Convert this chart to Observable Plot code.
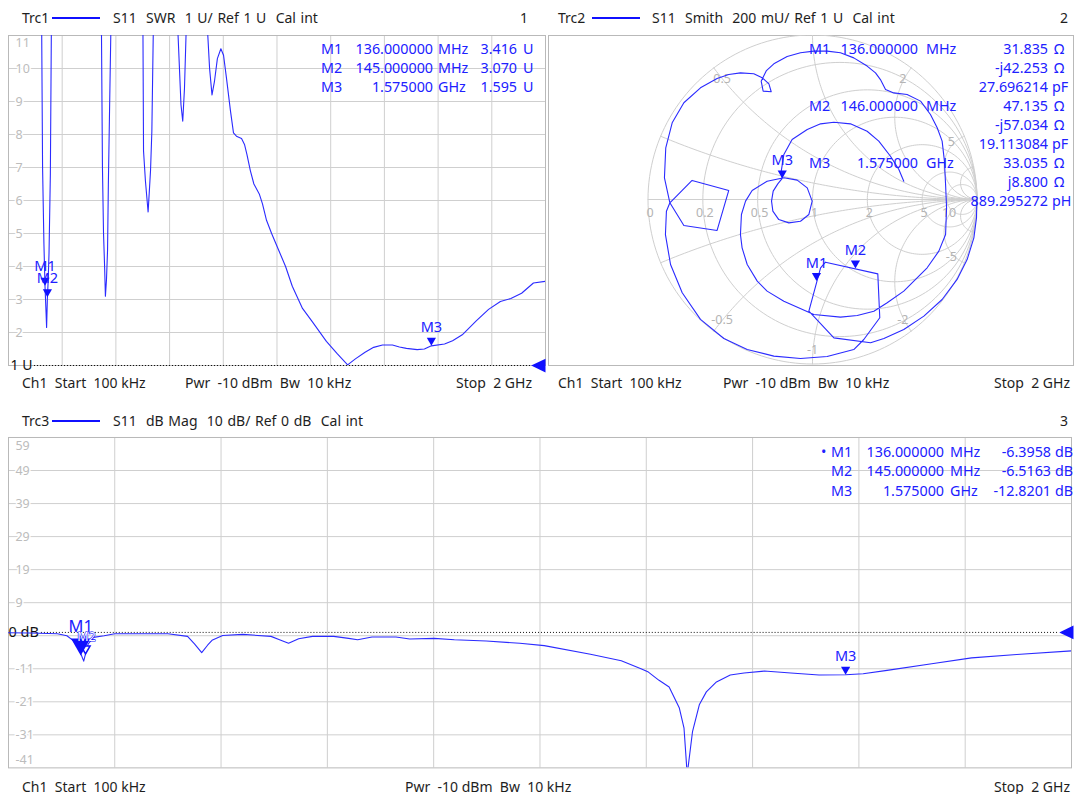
<!DOCTYPE html>
<html><head><meta charset="utf-8">
<script src="https://cdn.jsdelivr.net/npm/d3@7"></script>
<script src="https://cdn.jsdelivr.net/npm/@observablehq/plot@0.6"></script>
<style>
html,body{margin:0;padding:0;background:#fff}
body{width:1075px;height:794px;position:relative;overflow:hidden;font-family:"Noto Sans",sans-serif;font-size:14px;color:#1e1e1e}
.t{position:absolute;white-space:pre;line-height:20px}
.h{word-spacing:1px}
.ln{position:absolute;height:2px;background:#1010ff}
</style></head><body>
<script>
// ---------------- DATA ----------------
// Trace 1: SWR vs frequency (MHz)
const swrFreq = [0.1,119,123,127,132,136,140,142,145,147.5,151,156,160,164,343,346,350,354,358,361,365,369,372,376,382,387,497,500.6,503,510,520,524,529,534,540,544,626,629,642.5,649,655.5,663,667,734,739,749,758,767,778,791,801,812,827,838,849,868,879,888,901,914,934,946,961,980,1006,1032,1057,1095,1134,1184,1225,1263,1292,1328,1360,1393,1430,1456,1482,1522,1549,1575,1624,1654,1690,1742,1788,1832,1871,1911,1955,2000];
const swrVal = [20,20,12,7,4.7,3.42,2.6,2.15,3.07,3.5,4.4,6.8,11.5,20,20,11.5,7,5,4,3.1,3.6,4.5,6.5,8.5,11.5,20,20,11.5,7.5,6.6,5.65,6.2,6.9,8.1,11.5,20,20,11.5,8.9,8.4,9.4,11.5,20,20,11.5,10,9.2,9.6,10.3,10.6,10.4,9.7,8.7,8.05,7.95,7.88,7.7,7.4,6.9,6.5,6.2,5.9,5.4,5.0,4.5,4.0,3.4,2.73,2.3,1.73,1.35,1.02,1.2,1.4,1.55,1.62,1.62,1.56,1.52,1.48,1.5,1.595,1.65,1.75,1.93,2.35,2.7,2.94,3.03,3.19,3.5,3.55];
// Trace 3: |S11| dB vs frequency (MHz)
const dbFreq = [0.1,40,92,110,122,130,136,141.6,145,150,160,180,200,300,337,350,363.6,375,383,403,441,494,510,527,546,572,612,640,657,684,729,755,801,839,899,962,1008,1095,1153,1190,1204,1224,1243,1262,1271,1277,1287,1300,1313,1332,1358,1384,1422,1472,1525,1575,1608,1653,1737,1812,1897,2000];
const dbVal = [-0.1,-0.2,-0.4,-1.0,-2.5,-4.5,-6.4,-8.7,-6.5,-3.5,-1.5,-1.0,-0.4,-0.4,-1.2,-3.5,-6.1,-3.8,-2.4,-0.95,-0.6,-1.2,-2.2,-3.3,-1.9,-1.2,-1.2,-1.8,-2.2,-1.4,-1.4,-2.0,-1.8,-2.2,-2.6,-3.3,-4.0,-6.6,-8.6,-11,-12,-14.5,-16.5,-22.8,-29,-43,-30,-21.8,-18,-15,-12.9,-12.3,-11.7,-12.3,-12.9,-12.82,-12.5,-11.5,-9.5,-7.7,-6.7,-5.6];
// Trace 2: reflection coefficient (Smith chart), real and imaginary parts
const smithRe = [0.999,0.997,0.981,0.940,0.879,0.788,0.677,0.555,0.434,0.353,0.130,-0.022,0.049,0.079,0.397,0.409,0.312,0.251,0.089,-0.073,-0.235,-0.397,-0.539,-0.681,-0.792,-0.863,-0.894,-0.888,-0.867,-0.732,-0.509,-0.580,-0.782,-0.867,-0.900,-0.892,-0.853,-0.782,-0.681,-0.580,-0.509,-0.438,-0.357,-0.306,-0.265,-0.251,-0.300,-0.312,-0.280,-0.235,-0.154,-0.073,0.008,0.089,0.170,0.251,0.332,0.383,0.413,0.444,0.494,0.575,0.657,0.717,0.758,0.788,0.802,0.809,0.815,0.809,0.768,0.697,0.616,0.555,0.454,0.373,0.272,0.170,0.008,-0.174,-0.276,-0.336,-0.397,-0.428,-0.438,-0.432,-0.407,-0.367,-0.276,-0.174,-0.093,-0.032,-0.002,-0.022,-0.073,-0.144,-0.205,-0.241,-0.249,-0.239,-0.211,-0.184,-0.190,-0.174,-0.124,-0.032,0.049,0.130,0.231,0.332,0.403,0.474,0.525,0.555];
const smithIm = [0.000,-0.111,-0.233,-0.365,-0.486,-0.608,-0.709,-0.790,-0.845,-0.871,-0.841,-0.679,-0.415,-0.381,-0.452,-0.719,-0.851,-0.912,-0.954,-0.967,-0.952,-0.912,-0.845,-0.729,-0.567,-0.395,-0.213,-0.071,-0.020,0.116,0.055,-0.188,-0.158,-0.020,0.132,0.314,0.466,0.588,0.679,0.736,0.760,0.770,0.764,0.740,0.703,0.655,0.659,0.719,0.784,0.825,0.869,0.892,0.902,0.902,0.892,0.861,0.811,0.770,0.729,0.669,0.648,0.638,0.598,0.517,0.436,0.355,0.233,0.091,-0.051,-0.213,-0.314,-0.415,-0.496,-0.557,-0.628,-0.679,-0.705,-0.715,-0.699,-0.618,-0.557,-0.496,-0.395,-0.294,-0.213,-0.091,-0.010,0.055,0.111,0.132,0.118,0.071,-0.010,-0.091,-0.132,-0.142,-0.122,-0.071,-0.010,0.051,0.095,0.128,0.172,0.274,0.365,0.426,0.460,0.470,0.460,0.415,0.355,0.263,0.182,0.111];
// Markers
const markerNames = ["M1","M2","M3"];
const markerFreq = [136, 145, 1575];
const markerSwr = [3.416, 3.070, 1.595];
const markerDb = [-6.3958, -6.5163, -12.8201];
const smithMarkerFreq = [136, 146, 1575];
const smithMarkerRe = [0.024, 0.261, -0.184];
const smithMarkerIm = [-0.496, -0.420, 0.128];
const smithRes = ["31.835", "47.135", "33.035"];
const smithReact = ["-j42.253", "-j57.034", "j8.800"];
const smithLC = [["27.696214","pF"],["19.113084","pF"],["889.295272","pH"]];
// Axes / grids
const freqDomain = [0.1, 2000];
const freqGrid = [200,400,600,800,1000,1200,1400,1600,1800];
const swrGrid = [2,3,4,5,6,7,8,9,10];
const swrTop = 11, swrRef = 1;
const dbGrid = [49,39,29,19,9,-1,-11,-21,-31];
const dbMidLabels = [49,39,29,19,9,-11,-21,-31];
const dbTop = 59, dbBottom = -41, dbRef = 0;
const smithR = [0.2,0.5,1,2,5,10];
const smithX = [0.2,0.5,1,2,5,10];
const smithRealLabels = [0,0.2,0.5,1,2,5,10];
const smithImagLabels = [0.5,2,5,-0.5,-1,-2,-5];

// ---------------- HELPERS ----------------
const BLUE = "#2020ff", TRACE = "#2b2bff", GRID = "#cfcfcf", FRAME = "#b9b9b9", TICK = "#bcbcbc";
const M = 6;
function addPlot(left, top, w, h, xDomain, yDomain, marks) {
  const svg = Plot.plot({
    width: w + 2*M, height: h + 2*M, margin: M,
    x: {domain: xDomain, axis: null}, y: {domain: yDomain, axis: null},
    style: {background: "transparent", overflow: "visible", fontFamily: "Noto Sans", fontSize: "12.5px"},
    marks
  });
  svg.style.position = "absolute";
  svg.style.left = (left - M) + "px";
  svg.style.top = (top - M) + "px";
  document.body.appendChild(svg);
}
function T(str, x, y, o = {}) {
  const d = document.createElement("div");
  d.className = "t" + (o.h ? " h" : ""); d.textContent = str;
  d.style.top = (y - 10) + "px";
  if (o.right) d.style.right = (1075 - x) + "px"; else d.style.left = x + "px";
  if (o.color) d.style.color = o.color;
  if (o.size) d.style.fontSize = o.size + "px";
  document.body.appendChild(d);
}
function L(x, y, w) {
  const d = document.createElement("div");
  d.className = "ln"; d.style.left = x + "px"; d.style.top = (y - 1) + "px"; d.style.width = w + "px";
  document.body.appendChild(d);
}
const triDown = {draw(ctx, size) { const r = Math.sqrt(size / Math.PI); const w = r * 1.15, h = r * 2; ctx.moveTo(0, 0); ctx.lineTo(-w, -h); ctx.lineTo(w, -h); ctx.closePath(); }};
const triLeft = {draw(ctx, size) { const r = Math.sqrt(size / Math.PI); const h = r * 1.25, w = r * 2.6; ctx.moveTo(0, -h); ctx.lineTo(-w, 0); ctx.lineTo(0, h); ctx.closePath(); }};
const fmtF = f => f < 1000 ? [f.toFixed(6), "MHz"] : [(f/1000).toFixed(6), "GHz"];

// ---------------- PANEL 1: SWR ----------------
const swrData = swrFreq.map((f, i) => ({f, v: swrVal[i]}));
const swrMk = markerNames.map((n, i) => ({n, f: markerFreq[i], v: markerSwr[i]}));
addPlot(8, 35, 537, 330, freqDomain, [swrRef, swrTop], [
  Plot.ruleX(freqGrid, {stroke: GRID}),
  Plot.ruleY(swrGrid, {stroke: GRID}),
  Plot.frame({stroke: FRAME}),
  Plot.text(swrGrid, {y: d => d, text: d => String(d), frameAnchor: "left", textAnchor: "start", dx: 7, fill: TICK, stroke: "white", strokeWidth: 3}),
  Plot.text([swrTop], {y: d => d, text: d => String(d), frameAnchor: "left", textAnchor: "start", dx: 7, dy: 7, fill: TICK}),
  Plot.ruleY([swrRef], {stroke: "#111", strokeDasharray: "1,2", insetLeft: 26, insetRight: 14}),
  Plot.text([swrRef], {y: d => d, text: d => d + " U", frameAnchor: "left", textAnchor: "start", dx: 2, dy: 0, fill: "#111", fontSize: 14}),
  Plot.line(swrData, {x: "f", y: "v", stroke: TRACE, strokeWidth: 1.1, clip: true}),
  Plot.dot([swrRef], {y: d => d, frameAnchor: "right", symbol: triLeft, r: 5.5, fill: "#1010ff", stroke: null}),
  Plot.dot(swrMk.slice(0,1), {x: "f", y: "v", symbol: triDown, r: 4, fill: "#1010ff", stroke: null}),
  Plot.text(swrMk.slice(0,1), {x: "f", y: "v", text: "n", dy: -19, fill: BLUE, fontSize: 14.5}),
  Plot.dot(swrMk.slice(1), {x: "f", y: "v", symbol: triDown, r: 4, fill: "#1010ff", stroke: null}),
  Plot.text(swrMk.slice(1), {x: "f", y: "v", text: "n", dy: -19, fill: BLUE, fontSize: 14.5})
]);

// ---------------- PANEL 2: SMITH ----------------
const zToG = (r, x) => { const d = (r + 1) ** 2 + x * x; return [(r * r + x * x - 1) / d, 2 * x / d]; };
const smithGrid = [];
d3.range(0, 361, 2).forEach(a => smithGrid.push({k: "r0", x: Math.cos(a * Math.PI / 180), y: Math.sin(a * Math.PI / 180)}));
smithR.forEach(r => {
  const cx = r / (1 + r), rad = 1 / (1 + r);
  d3.range(0, 361, 2).forEach(a => smithGrid.push({k: "r" + r, x: cx + rad * Math.cos(a * Math.PI / 180), y: rad * Math.sin(a * Math.PI / 180)}));
});
smithX.forEach(xv => [xv, -xv].forEach(x => {
  d3.range(0, 90, 1).forEach(t => { const g = zToG(Math.tan(t * Math.PI / 180), x); smithGrid.push({k: "x" + x, x: g[0], y: g[1]}); });
  smithGrid.push({k: "x" + x, x: 1, y: 0});
}));
smithGrid.push({k: "axis", x: -1, y: 0}, {k: "axis", x: 1, y: 0});
const smithData = smithRe.map((re, i) => ({re, im: smithIm[i]}));
const smithMk = markerNames.map((n, i) => ({n, re: smithMarkerRe[i], im: smithMarkerIm[i]}));
const SC = 164.5;
addPlot(548, 35, 525, 330, [(548 - 812) / SC, (1073 - 812) / SC], [(199 - 365) / SC, (199 - 35) / SC], [
  Plot.frame({stroke: FRAME}),
  Plot.line(smithGrid, {x: "x", y: "y", z: "k", stroke: GRID, strokeWidth: 1, clip: true}),
  Plot.text(smithRealLabels, {x: r => (r - 1) / (r + 1), y: () => 0, dy: 13, dx: 2, text: r => String(r), fill: "#b4b4b4", fontSize: 12.5}),
  Plot.text(smithImagLabels, {x: v => 0.915 * zToG(0, v)[0], y: v => 0.915 * zToG(0, v)[1], text: v => String(v), fill: "#b4b4b4", fontSize: 12.5}),
  Plot.line(smithData, {x: "re", y: "im", stroke: TRACE, strokeWidth: 1.1, clip: true}),
  Plot.dot(smithMk, {x: "re", y: "im", symbol: triDown, r: 4, fill: "#1010ff", stroke: null}),
  Plot.text(smithMk, {x: "re", y: "im", text: "n", dy: -18, fill: BLUE, fontSize: 14.5})
]);

// ---------------- PANEL 3: dB MAG ----------------
const dbData = dbFreq.map((f, i) => ({f, v: dbVal[i]}));
const dbMk = markerNames.map((n, i) => ({n, f: markerFreq[i], v: markerDb[i]}));
addPlot(8, 437, 1065, 331, freqDomain, [dbBottom, dbTop], [
  Plot.ruleX(freqGrid, {stroke: GRID}),
  Plot.ruleY(dbGrid, {stroke: GRID}),
  Plot.frame({stroke: FRAME}),
  Plot.text(dbMidLabels, {y: d => d, text: d => String(d), frameAnchor: "left", textAnchor: "start", dx: 7, fill: TICK, stroke: "white", strokeWidth: 3}),
  Plot.text([dbTop], {y: d => d, text: d => String(d), frameAnchor: "left", textAnchor: "start", dx: 7, dy: 9, fill: TICK}),
  Plot.text([dbBottom], {y: d => d, text: d => String(d), frameAnchor: "left", textAnchor: "start", dx: 7, dy: -8, fill: TICK}),
  Plot.ruleY([dbRef], {stroke: "#111", strokeDasharray: "1,2", insetLeft: 33, insetRight: 14}),
  Plot.text([dbRef], {y: d => d, text: d => d + " dB", frameAnchor: "left", textAnchor: "start", dx: 0, fill: "#111", fontSize: 14.5}),
  Plot.line(dbData, {x: "f", y: "v", stroke: TRACE, strokeWidth: 1.1, clip: true}),
  Plot.dot([dbRef], {y: d => d, frameAnchor: "right", dx: 2, symbol: triLeft, r: 5.5, fill: "#1010ff", stroke: null}),
  Plot.dot(dbMk.slice(2), {x: "f", y: "v", symbol: triDown, r: 4, fill: "#1010ff", stroke: null}),
  Plot.text(dbMk.slice(2), {x: "f", y: "v", text: "n", dy: -18, fill: BLUE, fontSize: 14.5}),
  Plot.dot(dbMk.slice(1, 2), {x: "f", y: "v", symbol: triDown, r: 4, fill: "white", stroke: "#1010ff"}),
  Plot.dot(dbMk.slice(0, 1), {x: "f", y: "v", dy: 2, symbol: triDown, r: 8.5, fill: "#1010ff", stroke: null}),
  Plot.text(dbMk.slice(0, 1), {x: "f", y: "v", text: "n", dy: -27, fill: BLUE, fontSize: 16.5}),
  Plot.text(dbMk.slice(1, 2), {x: "f", y: "v", text: "n", dy: -17, dx: 1, fill: "white", stroke: "#1010ff", strokeWidth: 1.2, fontSize: 12.5})
]);

// ---------------- TEXT: headers, footers, readouts ----------------
T("Trc1", 22, 18); L(52, 18, 48); T("S11  SWR  1 U/ Ref 1 U  Cal int", 113, 18, {h: true}); T("1", 528, 18, {right: true});
T("Trc2", 558, 18); L(592, 18, 48); T("S11  Smith  200 mU/ Ref 1 U  Cal int", 652, 18, {h: true}); T("2", 1068, 18, {right: true});
T("Trc3", 22, 421); L(52, 421, 48); T("S11  dB Mag  10 dB/ Ref 0 dB  Cal int", 113, 421, {h: true}); T("3", 1068, 421, {right: true});
[[22, 185, 532, 383], [558, 723, 1070, 383], [22, 405, 1070, 787]].forEach(([a, b, c, y]) => {
  T("Ch1  Start  100 kHz", a, y); T("Pwr  -10 dBm  Bw  10 kHz", b, y); T("Stop  2 GHz", c, y, {right: true});
});
const RS = 14.3;
markerNames.forEach((n, i) => {
  const y = 48.5 + 19 * i; const [fv, fu] = fmtF(markerFreq[i]);
  T(n, 321, y, {color: BLUE, size: RS}); T(fv, 433, y, {right: true, color: BLUE, size: RS}); T(fu, 438, y, {color: BLUE, size: RS});
  T(markerSwr[i].toFixed(3), 517, y, {right: true, color: BLUE, size: RS}); T("U", 523, y, {color: BLUE, size: RS});
});
markerNames.forEach((n, i) => {
  const y0 = 48.5 + 57 * i; const [fv, fu] = fmtF(smithMarkerFreq[i]);
  T(n, 809, y0, {color: BLUE, size: RS}); T(fv, 918, y0, {right: true, color: BLUE, size: RS}); T(fu, 926, y0, {color: BLUE, size: RS});
  T(smithRes[i], 1048, y0, {right: true, color: BLUE, size: RS}); T("Ω", 1054, y0, {color: BLUE, size: RS});
  T(smithReact[i], 1048, y0 + 19, {right: true, color: BLUE, size: RS}); T("Ω", 1054, y0 + 19, {color: BLUE, size: RS});
  T(smithLC[i][0], 1048, y0 + 38, {right: true, color: BLUE, size: RS}); T(smithLC[i][1], 1052, y0 + 38, {color: BLUE, size: RS});
});
markerNames.forEach((n, i) => {
  const y = 452 + 19.3 * i; const [fv, fu] = fmtF(markerFreq[i]);
  if (i === 0) T("•", 821, y, {color: BLUE, size: RS});
  T(n, 831, y, {color: BLUE, size: RS}); T(fv, 944, y, {right: true, color: BLUE, size: RS}); T(fu, 950, y, {color: BLUE, size: RS});
  T(markerDb[i].toFixed(4), 1051, y, {right: true, color: BLUE, size: RS}); T("dB", 1055, y, {color: BLUE, size: RS});
});
</script>
</body></html>
